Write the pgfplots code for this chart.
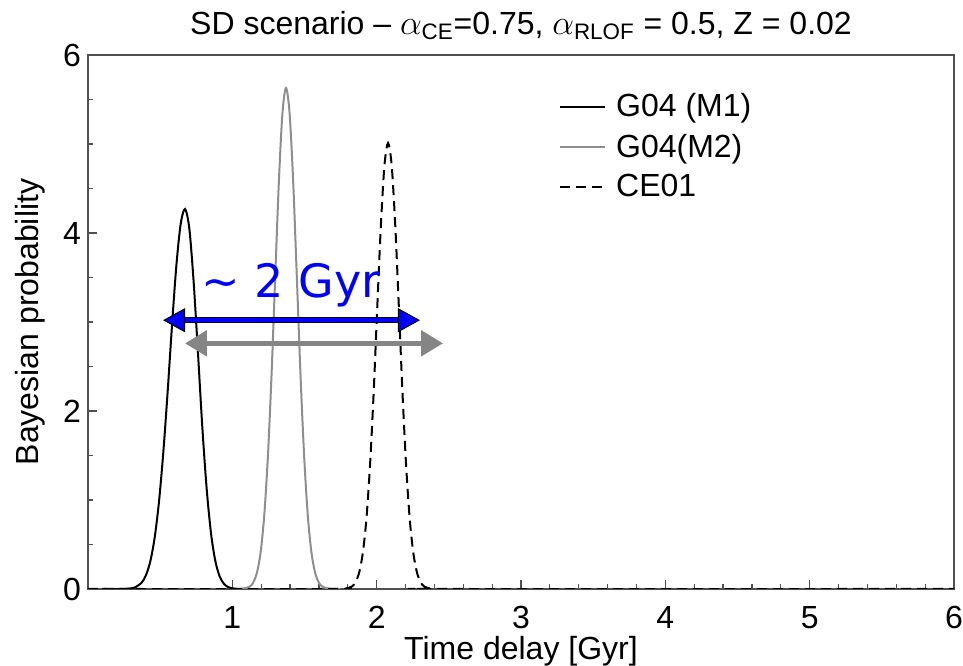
\documentclass[border=0pt]{standalone}
\usepackage{fontspec}
\setmainfont{Liberation Sans}
\newfontfamily\dejavu{DejaVu Sans}
\usepackage{amsmath}
\usepackage{pgfplots}
\pgfplotsset{compat=1.18}
\usetikzlibrary{arrows.meta,calc}
\definecolor{axgray}{HTML}{505050}
\definecolor{curvegray}{HTML}{8E8E8E}
\definecolor{arrowgray}{HTML}{858585}
\begin{document}
\begin{tikzpicture}
\begin{axis}[
  at={(0,0)}, anchor=south west,
  scale only axis, width=433pt, height=267pt,
  xmin=0, xmax=6, ymin=0, ymax=6,
  xtick={1,2,3,4,5,6}, ytick={0,2,4,6},
  minor x tick num=4, minor y tick num=3,
  tick align=inside, xtick pos=left, ytick pos=left,
  major tick length=4.5pt, minor tick length=2.5pt,
  every tick/.style={axgray, line width=0.6pt},
  axis line style={axgray, line width=0.75pt},
  /pgf/number format/assume math mode=true,
  tick label style={font=\fontsize{16}{18}\selectfont},
  xticklabel style={yshift=-5pt},
  label style={font=\fontsize{16}{18}\selectfont},
  xlabel={Time delay [Gyr]}, ylabel={Bayesian probability},
  xlabel style={yshift=3pt}, ylabel style={yshift=2pt},
  title={SD scenario -- $\alpha_{\text{CE}}$=0.75, $\alpha_{\text{RLOF}}$ = 0.5, Z = 0.02},
  title style={font=\fontsize{16}{18}\selectfont, yshift=-2pt},
  legend style={draw=none, fill=none, font=\fontsize{16}{18}\selectfont,
    at={(axis cs:3.22,5.66)}, anchor=north west, row sep=3pt,
    nodes={inner sep=2pt}},
  legend cell align=left,
  legend image code/.code={\draw[#1] (0pt,0pt) -- (22.5pt,0pt);},
  /tikz/every odd column/.append style={column sep=3pt},
]
\addplot[black, line width=1pt, smooth, tension=0.5] coordinates {
(0.10,0)(0.222,0.0)(0.272,0.003)(0.322,0.016)(0.372,0.072)(0.402,0.157)(0.432,0.313)
(0.462,0.578)(0.492,0.983)(0.522,1.54)(0.552,2.22)(0.582,2.96)(0.612,3.63)(0.642,4.10)
(0.672,4.27)(0.702,4.05)(0.732,3.45)(0.762,2.65)(0.792,1.82)(0.822,1.13)(0.852,0.630)
(0.882,0.316)(0.912,0.142)(0.942,0.058)(0.972,0.021)(1.022,0.003)(1.10,0)};
\addlegendentry{G04 (M1)}
\addplot[curvegray, line width=1pt, smooth, tension=0.5] coordinates {
(1.00,0)(1.072,0.003)(1.122,0.029)(1.147,0.079)(1.172,0.193)(1.197,0.425)(1.222,0.845)
(1.247,1.51)(1.272,2.42)(1.297,3.50)(1.322,4.56)(1.347,5.34)(1.372,5.63)(1.397,5.34)
(1.422,4.56)(1.447,3.50)(1.472,2.42)(1.497,1.51)(1.522,0.845)(1.547,0.425)(1.572,0.193)
(1.597,0.079)(1.622,0.029)(1.672,0.003)(1.75,0)};
\addlegendentry{G04(M2)}
\addplot[black, line width=1pt, dash pattern=on 5pt off 3pt, smooth, tension=0.5] coordinates {
(0,0)(1.70,0)(1.779,0.003)(1.829,0.029)(1.854,0.078)(1.879,0.187)(1.904,0.404)(1.929,0.789)
(1.954,1.39)(1.979,2.20)(2.004,3.16)(2.029,4.08)(2.054,4.76)(2.079,5.01)(2.104,4.76)
(2.129,4.08)(2.154,3.16)(2.179,2.20)(2.204,1.39)(2.229,0.789)(2.254,0.404)(2.279,0.187)
(2.304,0.078)(2.329,0.029)(2.379,0.003)(2.46,0)(6,0)};
\addlegendentry{CE01}
\draw[arrowgray, line width=2.6pt, {Triangle[length=11pt,width=12.5pt]}-{Triangle[length=11pt,width=12.5pt]}]
  (axis cs:0.672,2.76) -- (axis cs:2.46,2.76);
\draw[black, line width=2.8pt, shorten <=10pt, shorten >=10pt]
  (axis cs:0.52,3.02) -- (axis cs:2.30,3.02);
\draw[blue, line width=1.8pt,
  {Triangle[length=11pt,width=12pt,fill=blue,color=black,line width=0.5pt]}-{Triangle[length=11pt,width=12pt,fill=blue,color=black,line width=0.5pt]}]
  (axis cs:0.52,3.02) -- (axis cs:2.30,3.02);
\node[blue, anchor=base, font=\dejavu\fontsize{23}{26}\selectfont, inner sep=0pt]
  at (axis cs:1.407,3.28) {\textasciitilde\ 2 Gyr};
\end{axis}
\pgfresetboundingbox
\useasboundingbox ($(current axis.south west)+(-44pt,-38.5pt)$) rectangle ($(current axis.north east)+(4.5pt,27.5pt)$);
\end{tikzpicture}
\end{document}
